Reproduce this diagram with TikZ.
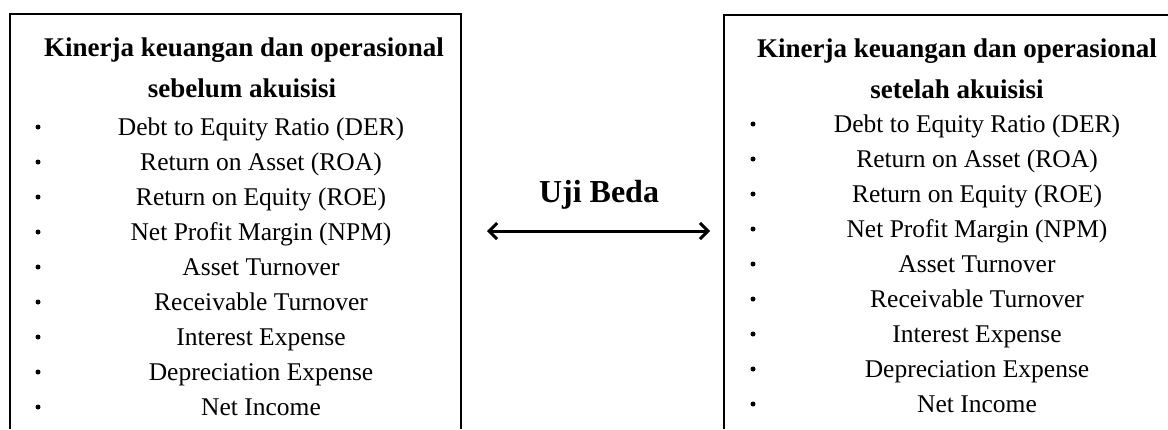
\documentclass[tikz,border=0pt]{standalone}
\usepackage{fontspec}
\setmainfont{Liberation Serif}
\usetikzlibrary{arrows.meta}
\begin{document}
\begin{tikzpicture}[x=1pt,y=-1pt,
  title/.style={font=\fontsize{27}{30}\selectfont\bfseries, anchor=base, inner sep=0pt},
  item/.style={font=\fontsize{25.5}{28}\selectfont, anchor=base, inner sep=0pt},
  dot/.style={circle, fill=black, inner sep=0pt, minimum size=5pt},
  frame/.style={line width=2.4pt, draw=black},
  link/.style={line width=3pt, {Straight Barb[length=8pt,width=16pt,line width=3pt]}-{Straight Barb[length=8pt,width=16pt,line width=3pt]}}
]
\useasboundingbox (0,0) rectangle (1168,429);
% frames (open at the cut edges)
\coordinate (L1) at (10,429);
\coordinate (L2) at (10,14);
\coordinate (L3) at (461,14);
\coordinate (L4) at (461,429);
\draw[frame] (L1) -- (L2) -- (L3) -- (L4);
\coordinate (R1) at (724,429);
\coordinate (R2) at (724,15);
\coordinate (R3) at (1168,15);
\draw[frame] (R1) -- (R2) -- (R3);
% titles
\node[title] (lt1) at (244,56) {Kinerja keuangan dan operasional};
\node[title] (lt2) at (242,97) {sebelum akuisisi};
\node[title] (rt1) at (957,57) {Kinerja keuangan dan operasional};
\node[title] (rt2) at (957,98) {setelah akuisisi};
% items
\foreach \t [count=\i from 0] in {Debt to Equity Ratio (DER),Return on Asset (ROA),Return on Equity (ROE),Net Profit Margin (NPM),Asset Turnover,Receivable Turnover,Interest Expense,Depreciation Expense,Net Income}{
  \node[item] (li\i) at (261,135+35*\i) {\t};
  \node[dot] (lb\i) at (38,127+35*\i) {};
  \node[item] (ri\i) at (977,132+35*\i) {\t};
  \node[dot] (rb\i) at (753,124+35*\i) {};
}
% test label and arrow
\node[font=\fontsize{32}{36}\selectfont\bfseries, anchor=base, inner sep=0pt] (uji) at (599,202) {Uji Beda};
\coordinate (aL) at (487,231);
\coordinate (aR) at (710,231);
\draw[link] (aL) -- (aR);
\end{tikzpicture}
\end{document}
